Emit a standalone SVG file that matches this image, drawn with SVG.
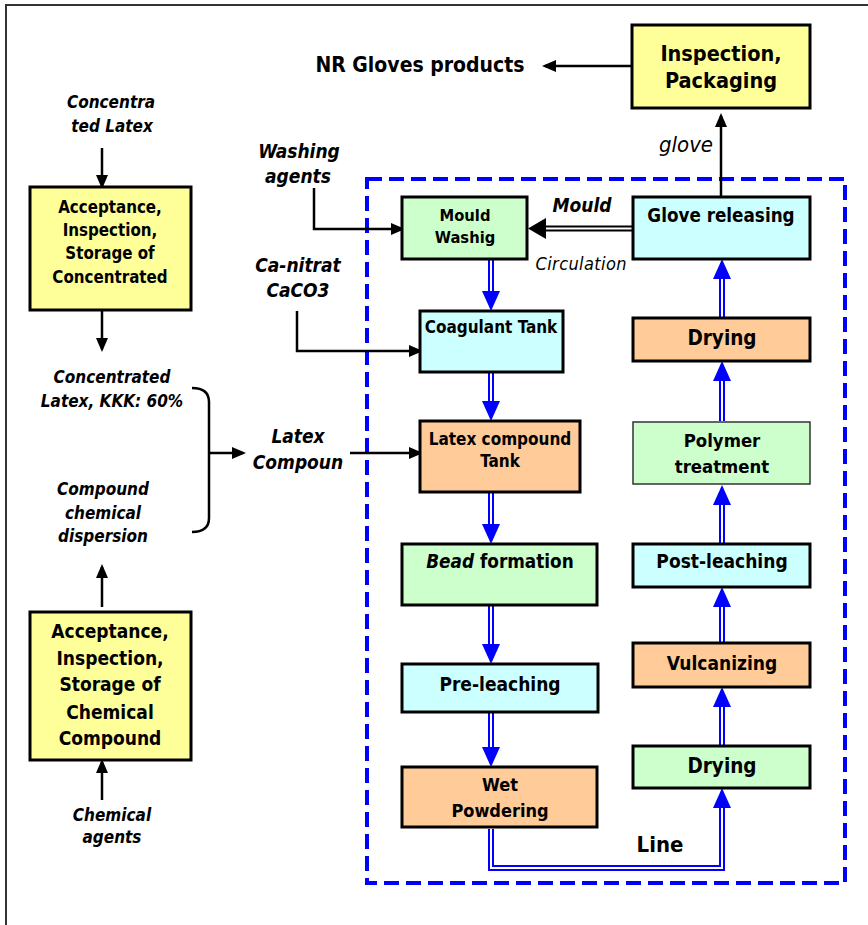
<svg xmlns="http://www.w3.org/2000/svg" width="868" height="925" viewBox="0 0 868 925">
  <style>
    text { font-family: "DejaVu Sans Condensed", "DejaVu Sans", sans-serif; font-weight: bold; text-anchor: middle; fill: #000; }
    .it { font-style: italic; }
    .lt { font-weight: normal; }
    .box { stroke: #000; stroke-width: 3; }
    .thin { stroke: #333; stroke-width: 1.5; }
    .yel { fill: #FFFF99; }
    .grn { fill: #CCFFCC; }
    .cyn { fill: #CCFFFF; }
    .org { fill: #FFCC99; }
    .blk { fill: none; stroke: #000; stroke-width: 2.5; marker-end: url(#ah); }
    .dbo { fill: none; stroke: #0000FF; stroke-width: 6; marker-end: url(#bh); }
    .dbi { fill: none; stroke: #fff; stroke-width: 2; }
    .kbo { fill: none; stroke: #000; stroke-width: 6; }
    .kbi { fill: none; stroke: #fff; stroke-width: 2; }
  </style>
  <defs>
    <marker id="ah" markerUnits="userSpaceOnUse" markerWidth="14" markerHeight="12" refX="11" refY="6" orient="auto">
      <path d="M0,0 L14,6 L0,12 z" fill="#000"/>
    </marker>
    <marker id="bh" markerUnits="userSpaceOnUse" markerWidth="20" markerHeight="18" refX="0" refY="9" orient="auto" overflow="visible">
      <path d="M0,0 L20,9 L0,18 z" fill="#0000FF"/>
    </marker>
  </defs>

  <rect width="868" height="925" fill="#fff"/>
  <!-- page frame -->
  <path d="M6,925 V5 H868" fill="none" stroke="#333" stroke-width="2"/>

  <!-- production line boundary -->
  <rect x="367" y="179" width="478" height="704" fill="none" stroke="#0000FF" stroke-width="4" stroke-dasharray="15 7"/>

  <g id="connectors">
    <!-- raw material feeds -->
    <path class="blk" d="M102,148 V186"/>
    <path class="blk" d="M102,310 V349"/>
    <path class="blk" d="M102,607 V567"/>
    <path class="blk" d="M102,800 V762"/>
    <path d="M192,388 Q209,388 209,402 L209,518 Q209,532 192,532" fill="none" stroke="#000" stroke-width="2.5"/>
    <path class="blk" d="M209,453 H243"/>
    <path class="blk" d="M314,188 V229 H402"/>
    <path class="blk" d="M297,311 V351 H420"/>
    <path class="blk" d="M350,453 H420"/>
    <path class="blk" d="M721,196 V116"/>
    <path class="blk" d="M632,66 H545"/>

    <!-- mould circulation -->
    <path class="kbo" d="M632,228.5 H545"/>
    <path class="kbi" d="M632,228.5 H545"/>
    <path d="M528,228.5 L546,218 L546,239 z" fill="#000"/>

    <!-- line flow, down the left column -->
    <path class="dbo" d="M491,259 V291"/><path class="dbi" d="M491,259 V291"/>
    <path class="dbo" d="M491,372 V401"/><path class="dbi" d="M491,372 V401"/>
    <path class="dbo" d="M491,492 V524"/><path class="dbi" d="M491,492 V524"/>
    <path class="dbo" d="M491,605 V644"/><path class="dbi" d="M491,605 V644"/>
    <path class="dbo" d="M491,712 V747"/><path class="dbi" d="M491,712 V747"/>
    <!-- across the bottom and up the right column -->
    <path class="dbo" d="M491,829 V868 H722 V808"/><path class="dbi" d="M491,829 V868 H722 V808"/>
    <path class="dbo" d="M722,745 V707"/><path class="dbi" d="M722,745 V707"/>
    <path class="dbo" d="M722,643 V607"/><path class="dbi" d="M722,643 V607"/>
    <path class="dbo" d="M722,543 V505"/><path class="dbi" d="M722,543 V505"/>
    <path class="dbo" d="M722,421 V381"/><path class="dbi" d="M722,421 V381"/>
    <path class="dbo" d="M722,318 V279"/><path class="dbi" d="M722,318 V279"/>
  </g>

  <!-- free labels -->
  <g id="labels">
    <text class="it" font-size="17" x="111" y="108">Concentra</text>
    <text class="it" font-size="17" x="112" y="132">ted Latex</text>
    <text class="it" font-size="17" x="112" y="383">Concentrated</text>
    <text class="it" font-size="17" x="112" y="407">Latex, KKK: 60%</text>
    <text class="it" font-size="17" x="103" y="495">Compound</text>
    <text class="it" font-size="17" x="103" y="519">chemical</text>
    <text class="it" font-size="17" x="103" y="542">dispersion</text>
    <text class="it" font-size="17" x="112" y="821">Chemical</text>
    <text class="it" font-size="17" x="112" y="843">agents</text>
    <text font-size="21" x="420" y="72">NR Gloves products</text>
    <text class="it lt" font-size="22" x="686" y="152">glove</text>
    <text class="it" font-size="19" x="299" y="158">Washing</text>
    <text class="it" font-size="19" x="298" y="183">agents</text>
    <text class="it" font-size="19" x="298" y="272">Ca-nitrat</text>
    <text class="it" font-size="19" x="298" y="297">CaCO3</text>
    <text class="it" font-size="19" x="298" y="443">Latex</text>
    <text class="it" font-size="19" x="298" y="469">Compoun</text>
    <text class="it" font-size="19" x="582" y="212">Mould</text>
    <text class="it lt" font-size="18" x="581" y="270" textLength="91">Circulation</text>
    <text font-size="22" x="660" y="852">Line</text>
  </g>

  <g id="latex-store">
    <rect class="box yel" x="30" y="187" width="161" height="123"/>
    <text font-size="16.8" x="110" y="213">Acceptance,</text>
    <text font-size="16.8" x="110" y="236">Inspection,</text>
    <text font-size="16.8" x="110" y="259">Storage of</text>
    <text font-size="16.8" x="110" y="283">Concentrated</text>
  </g>
  <g id="chemical-store">
    <rect class="box yel" x="30" y="612" width="161" height="148"/>
    <text font-size="19" x="110" y="638">Acceptance,</text>
    <text font-size="19" x="110" y="665">Inspection,</text>
    <text font-size="19" x="110" y="691">Storage of</text>
    <text font-size="19" x="110" y="719">Chemical</text>
    <text font-size="19" x="110" y="745">Compound</text>
  </g>
  <g id="inspection-packaging">
    <rect class="box yel" x="632" y="25" width="178" height="83"/>
    <text font-size="21.5" x="721" y="61">Inspection,</text>
    <text font-size="21.5" x="721" y="88">Packaging</text>
  </g>
  <g id="mould-washing">
    <rect class="box grn" x="402" y="197" width="125" height="62"/>
    <text font-size="16.4" x="465" y="221">Mould</text>
    <text font-size="16.4" x="465" y="243">Washig</text>
  </g>
  <g id="coagulant-tank">
    <rect class="box cyn" x="420" y="311" width="143" height="61"/>
    <text font-size="17" x="491" y="333">Coagulant Tank</text>
  </g>
  <g id="latex-compound-tank">
    <rect class="box org" x="420" y="421" width="160" height="71"/>
    <text font-size="17" x="500" y="445">Latex compound</text>
    <text font-size="17" x="500" y="467">Tank</text>
  </g>
  <g id="bead-formation">
    <rect class="box grn" x="402" y="544" width="195" height="61"/>
    <text font-size="18.8" x="500" y="568"><tspan class="it">Bead</tspan> formation</text>
  </g>
  <g id="pre-leaching">
    <rect class="box cyn" x="402" y="664" width="196" height="48"/>
    <text font-size="19" x="500" y="691">Pre-leaching</text>
  </g>
  <g id="wet-powdering">
    <rect class="box org" x="402" y="767" width="195" height="60"/>
    <text font-size="18" x="500" y="791">Wet</text>
    <text font-size="18" x="500" y="817">Powdering</text>
  </g>
  <g id="glove-releasing">
    <rect class="box cyn" x="633" y="197" width="177" height="62"/>
    <text font-size="18.7" x="721" y="222">Glove releasing</text>
  </g>
  <g id="drying-final">
    <rect class="box org" x="633" y="318" width="177" height="43"/>
    <text font-size="20.5" x="722" y="345">Drying</text>
  </g>
  <g id="polymer-treatment">
    <rect class="thin grn" x="633" y="422" width="177" height="62"/>
    <text font-size="18.4" x="722" y="447">Polymer</text>
    <text font-size="18.4" x="722" y="473">treatment</text>
  </g>
  <g id="post-leaching">
    <rect class="box cyn" x="633" y="544" width="177" height="43"/>
    <text font-size="19" x="722" y="568">Post-leaching</text>
  </g>
  <g id="vulcanizing">
    <rect class="box org" x="633" y="643" width="177" height="44"/>
    <text font-size="19" x="722" y="670">Vulcanizing</text>
  </g>
  <g id="drying-first">
    <rect class="box grn" x="633" y="746" width="177" height="42"/>
    <text font-size="20.5" x="722" y="773">Drying</text>
  </g>
</svg>
